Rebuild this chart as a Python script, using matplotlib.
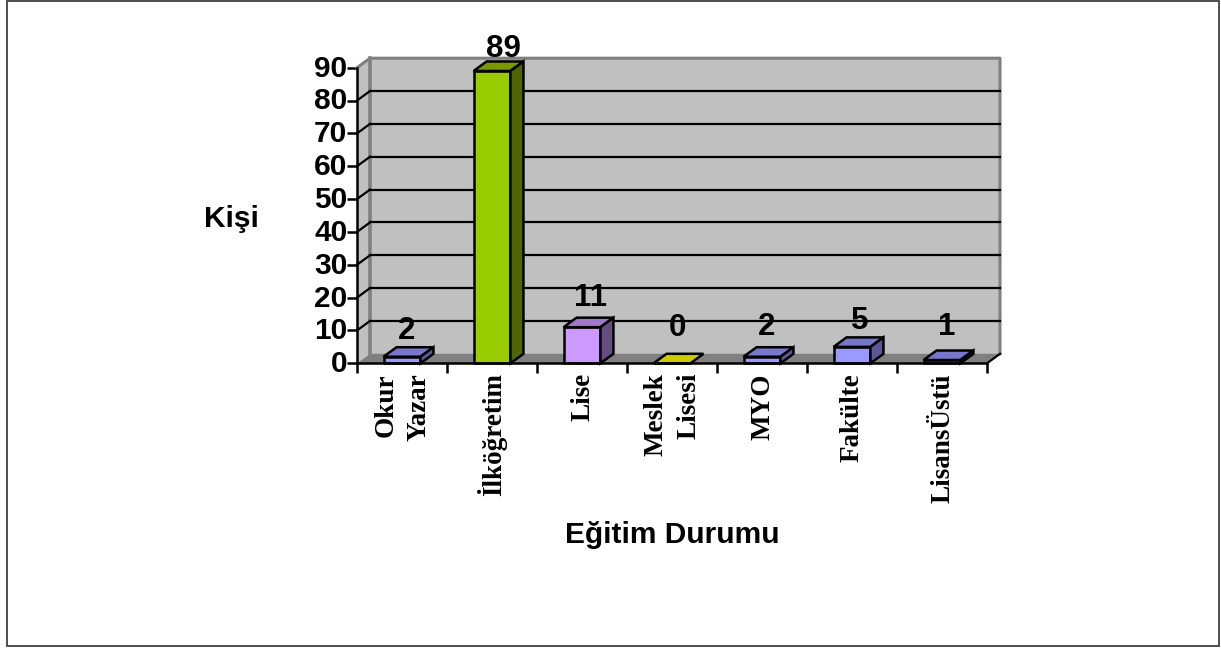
import numpy as np
import matplotlib
matplotlib.use("Agg")
import matplotlib.pyplot as plt
from matplotlib.patches import Polygon, Rectangle
from matplotlib.transforms import ScaledTranslation

categories = ["Okur\nYazar", "İlköğretim", "Lise", "Meslek\nLisesi", "MYO", "Fakülte", "LisansÜstü"]
values = [2, 89, 11, 0, 2, 5, 1]
yticks = [0, 10, 20, 30, 40, 50, 60, 70, 80, 90]

front_colors = ["#9999FF", "#99CC00", "#CC99FF", "#CCCC00", "#9999FF", "#9999FF", "#9999FF"]
top_colors = ["#7777CC", "#7A9900", "#A07AC8", "#CCCC00", "#7777CC", "#7777CC", "#7777CC"]
side_colors = ["#5A5A99", "#4F6600", "#664C80", "#666600", "#5A5A99", "#5A5A99", "#5A5A99"]

# label offsets from the bar top, in pixels
label_dx = [5, 11, 8, 5, 5, 8, 5]
label_dy = [26, 22, 29, 35, 30, 26, 33]

W, H = 1221, 648
dx = 13 / 90      # depth of the fake 3d, in category units
dy = 9.5 / 3.285  # same in value units
bw = 0.41
xs = np.arange(len(values)) + 0.5

fig = plt.figure(figsize=(W / 100, H / 100), dpi=100)
fig.patches.append(Rectangle((7 / W, 2 / H), 1212 / W, 645 / H, transform=fig.transFigure,
                             fill=False, ec="#404040", lw=1.3))

ax = fig.add_axes([357 / W, 1 - 363.3 / H, 630 / W, 295.6 / H])
ax.set_xlim(0, 7)
ax.set_ylim(0, 90)
ax.patch.set_visible(False)

top = 90 + dy
# walls and floor
ax.add_patch(Polygon([(dx, dy), (7 + dx, dy), (7 + dx, top), (dx, top)], fc="#C0C0C0", ec="none", clip_on=False, zorder=1))
ax.add_patch(Polygon([(0, 0), (dx, dy), (dx, top), (0, 90)], fc="#C0C0C0", ec="none", clip_on=False, zorder=1))
ax.add_patch(Polygon([(0, 0), (7, 0), (7 + dx, dy), (dx, dy)], fc="#808080", ec="none", clip_on=False, zorder=1.5))
ax.plot([0, dx, 7 + dx, 7 + dx], [90, top, top, dy], color="#808080", lw=2.2, clip_on=False, zorder=2)
ax.plot([dx, dx], [dy, top], color="#808080", lw=2.6, clip_on=False, zorder=2)

# gridlines, back wall and the slanted part on the left wall
for v in yticks[1:-1]:
    ax.plot([dx, 7 + dx], [v + dy, v + dy], color="black", lw=1.6, clip_on=False, zorder=3)
    ax.plot([0, dx], [v, v + dy], color="black", lw=1.6, clip_on=False, zorder=3)
ax.plot([7, 7 + dx], [0, dy], color="black", lw=1.6, clip_on=False, zorder=3)

# bars
ax.bar(xs, values, width=bw, color=front_colors, edgecolor="black", linewidth=1.8, zorder=5, clip_on=False)
for x, v, tc, sc in zip(xs, values, top_colors, side_colors):
    l, r = x - bw / 2, x + bw / 2
    ax.add_patch(Polygon([(l, v), (r, v), (r + dx, v + dy), (l + dx, v + dy)], fc=tc, ec="black", lw=1.8, clip_on=False, zorder=5))
    if v > 0:
        ax.add_patch(Polygon([(r, 0), (r + dx, dy), (r + dx, v + dy), (r, v)], fc=sc, ec="black", lw=1.8, clip_on=False, zorder=5))

# data labels
for x, v, ox, oy in zip(xs, values, label_dx, label_dy):
    ax.annotate(str(v), (x, v), xytext=(ox, oy), textcoords="offset pixels", ha="center", va="center",
                family="Liberation Sans", fontweight="bold", fontsize=22.5, zorder=7, annotation_clip=False)

# axes
for s in ["top", "right"]:
    ax.spines[s].set_visible(False)
for s in ["left", "bottom"]:
    ax.spines[s].set_linewidth(1.8)
    ax.spines[s].set_zorder(6)

ax.set_yticks(yticks)
ax.set_yticklabels(yticks, family="Liberation Sans", fontweight="bold", fontsize=21.5)
ax.tick_params(axis="y", length=7, width=1.8, pad=0)
shift_up = ScaledTranslation(0, 1.5 / 72, fig.dpi_scale_trans)
for t in ax.get_yticklabels():
    t.set_transform(t.get_transform() + shift_up)
ax.set_xticks(range(8))
ax.set_xticklabels([])
ax.tick_params(axis="x", which="major", length=7, width=1.8)
ax.set_xticks(xs + 0.5 / 90, labels=categories, minor=True)
ax.tick_params(axis="x", which="minor", length=0, pad=7)
for t in ax.get_xticklabels(minor=True):
    t.set(rotation=90, family="Liberation Serif", fontweight="bold", fontsize=19.5,
          ha="center", va="top", multialignment="right", linespacing=1.42)

fig.text(231 / W, 1 - 219 / H, "Kişi", family="Liberation Sans", fontweight="bold", fontsize=21.5, ha="center", va="center")
fig.text(672 / W, 1 - 535 / H, "Eğitim Durumu", family="Liberation Sans", fontweight="bold", fontsize=21.5, ha="center", va="center")

fig.savefig("out.png", dpi=100)
